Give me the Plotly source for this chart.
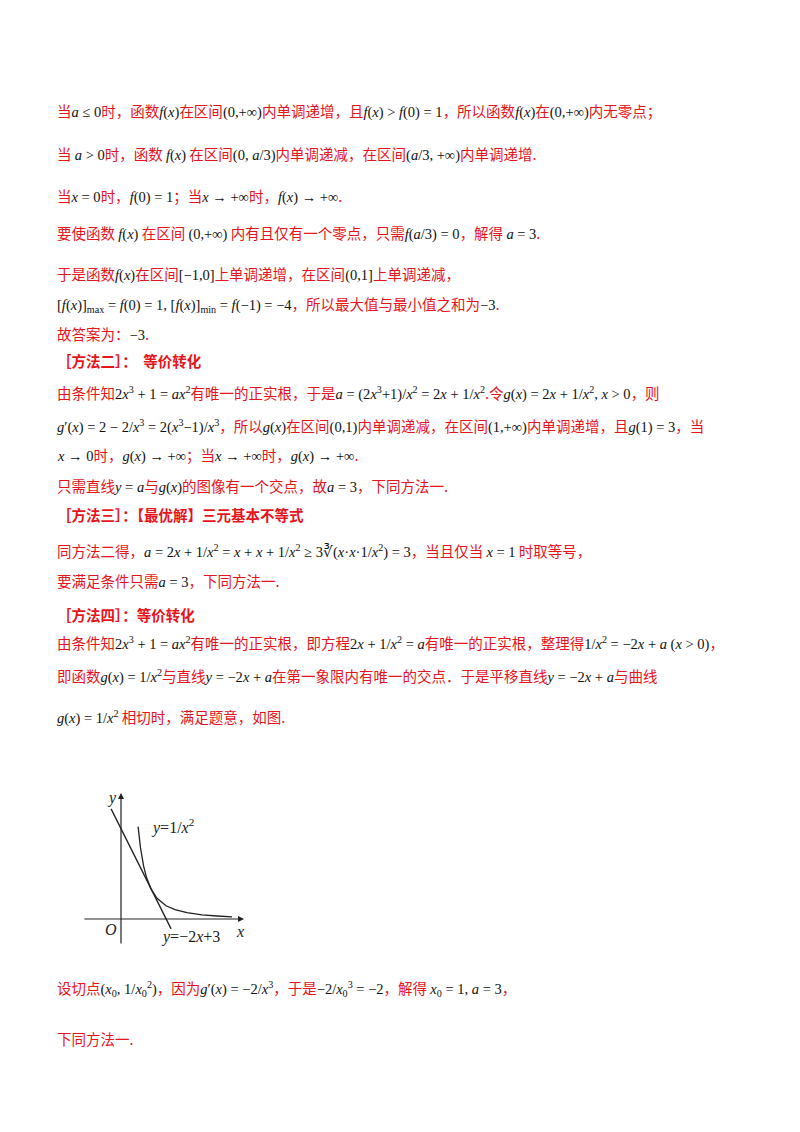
import plotly.graph_objects as go

RED = "#e8141c"
BLK = "#111111"

# diagram data
curve_x = [0.57, 0.65, 0.75, 0.85, 1.0, 1.2, 1.5, 1.8, 2.2, 2.7, 3.2, 3.7]
curve_y = [3.08, 2.37, 1.78, 1.38, 1.0, 0.69, 0.44, 0.31, 0.21, 0.14, 0.10, 0.07]
line_x = [-0.33, 1.67]
line_y = [3.67, -0.33]

def r(s): return f"<span style='color:{RED}'>{s}</span>"
def k(s): return f"<span style='color:{BLK};font-family:Liberation Serif'>{s}</span>"

text_y = [103, 145, 187, 225, 265, 296, 325, 352, 385, 418, 446, 477, 506, 542, 572, 606, 634, 667, 708, 980, 1030]
text_lines = [
    r("当")+k("<i>a</i> ≤ 0")+r("时，函数")+k("<i>f</i>(<i>x</i>)")+r("在区间")+k("(0,+∞)")+r("内单调递增，且")+k("<i>f</i>(<i>x</i>) > <i>f</i>(0) = 1")+r("，所以函数")+k("<i>f</i>(<i>x</i>)")+r("在")+k("(0,+∞)")+r("内无零点；"),
    r("当 ")+k("<i>a</i> > 0")+r("时，函数 ")+k("<i>f</i>(<i>x</i>)")+r(" 在区间")+k("(0, <i>a</i>/3)")+r("内单调递减，在区间")+k("(<i>a</i>/3, +∞)")+r("内单调递增."),
    r("当")+k("<i>x</i> = 0")+r("时，")+k("<i>f</i>(0) = 1")+r("；当")+k("<i>x</i> → +∞")+r("时，")+k("<i>f</i>(<i>x</i>) → +∞")+r("."),
    r("要使函数 ")+k("<i>f</i>(<i>x</i>)")+r(" 在区间 ")+k("(0,+∞)")+r(" 内有且仅有一个零点，只需")+k("<i>f</i>(<i>a</i>/3) = 0")+r("，解得 ")+k("<i>a</i> = 3")+r("."),
    r("于是函数")+k("<i>f</i>(<i>x</i>)")+r("在区间")+k("[−1,0]")+r("上单调递增，在区间")+k("(0,1]")+r("上单调递减，"),
    k("[<i>f</i>(<i>x</i>)]<sub>max</sub> = <i>f</i>(0) = 1, [<i>f</i>(<i>x</i>)]<sub>min</sub> = <i>f</i>(−1) = −4")+r("，所以最大值与最小值之和为")+k("−3")+r("."),
    r("故答案为：")+k("−3")+r("."),
    r("<b>［方法二］：  等价转化</b>"),
    r("由条件知")+k("2<i>x</i><sup>3</sup> + 1 = <i>ax</i><sup>2</sup>")+r("有唯一的正实根，于是")+k("<i>a</i> = (2<i>x</i><sup>3</sup>+1)/<i>x</i><sup>2</sup> = 2<i>x</i> + 1/<i>x</i><sup>2</sup>")+r(".令")+k("<i>g</i>(<i>x</i>) = 2<i>x</i> + 1/<i>x</i><sup>2</sup>, <i>x</i> > 0")+r("，则"),
    k("<i>g</i>′(<i>x</i>) = 2 − 2/<i>x</i><sup>3</sup> = 2(<i>x</i><sup>3</sup>−1)/<i>x</i><sup>3</sup>")+r("，所以")+k("<i>g</i>(<i>x</i>)")+r("在区间")+k("(0,1)")+r("内单调递减，在区间")+k("(1,+∞)")+r("内单调递增，且")+k("<i>g</i>(1) = 3")+r("，当"),
    k("<i>x</i> → 0")+r("时，")+k("<i>g</i>(<i>x</i>) → +∞")+r("；当")+k("<i>x</i> → +∞")+r("时，")+k("<i>g</i>(<i>x</i>) → +∞")+r("."),
    r("只需直线")+k("<i>y</i> = <i>a</i>")+r("与")+k("<i>g</i>(<i>x</i>)")+r("的图像有一个交点，故")+k("<i>a</i> = 3")+r("，下同方法一."),
    r("<b>［方法三］：【最优解】三元基本不等式</b>"),
    r("同方法二得，")+k("<i>a</i> = 2<i>x</i> + 1/<i>x</i><sup>2</sup> = <i>x</i> + <i>x</i> + 1/<i>x</i><sup>2</sup> ≥ 3∛(<i>x</i>·<i>x</i>·1/<i>x</i><sup>2</sup>) = 3")+r("，当且仅当 ")+k("<i>x</i> = 1")+r(" 时取等号，"),
    r("要满足条件只需")+k("<i>a</i> = 3")+r("，下同方法一."),
    r("<b>［方法四］：等价转化</b>"),
    r("由条件知")+k("2<i>x</i><sup>3</sup> + 1 = <i>ax</i><sup>2</sup>")+r("有唯一的正实根，即方程")+k("2<i>x</i> + 1/<i>x</i><sup>2</sup> = <i>a</i>")+r("有唯一的正实根，整理得")+k("1/<i>x</i><sup>2</sup> = −2<i>x</i> + <i>a</i> (<i>x</i> > 0)")+r("，"),
    r("即函数")+k("<i>g</i>(<i>x</i>) = 1/<i>x</i><sup>2</sup>")+r("与直线")+k("<i>y</i> = −2<i>x</i> + <i>a</i>")+r("在第一象限内有唯一的交点．于是平移直线")+k("<i>y</i> = −2<i>x</i> + <i>a</i>")+r("与曲线"),
    k("<i>g</i>(<i>x</i>) = 1/<i>x</i><sup>2</sup>")+r(" 相切时，满足题意，如图."),
    r("设切点")+k("(<i>x</i><sub>0</sub>, 1/<i>x</i><sub>0</sub><sup>2</sup>)")+r("，因为")+k("<i>g</i>′(<i>x</i>) = −2/<i>x</i><sup>3</sup>")+r("，于是")+k("−2/<i>x</i><sub>0</sub><sup>3</sup> = −2")+r("，解得 ")+k("<i>x</i><sub>0</sub> = 1, <i>a</i> = 3")+r("，"),
    r("下同方法一."),
]

fig = go.Figure()
fig.add_trace(go.Scatter(x=curve_x, y=curve_y, mode="lines", line=dict(color="#222", width=1.3),
                         xaxis="x2", yaxis="y2", showlegend=False, hoverinfo="skip"))
fig.add_trace(go.Scatter(x=line_x, y=line_y, mode="lines", line=dict(color="#222", width=1.3),
                         xaxis="x2", yaxis="y2", showlegend=False, hoverinfo="skip"))

W, H = 800, 1132
anns = []
for yy, t in zip(text_y, text_lines):
    anns.append(dict(x=47 / W, y=1 - yy / H, xref="paper", yref="paper", text=t, showarrow=False,
                     xanchor="left", yanchor="middle", align="left",
                     font=dict(family="Noto Sans CJK SC", size=14.5, color=RED)))

# diagram axes (x2/y2 coordinates)
ax = dict(xref="x2", yref="y2", axref="x2", ayref="y2", showarrow=True, arrowhead=2,
          arrowsize=1, arrowwidth=1.2, arrowcolor="#222", text="")
anns.append(dict(ax, x=4.1, y=0, ax=-1.27, ay=0))
anns.append(dict(ax, x=0, y=4.2, ax=0, ay=-0.87))
lab = dict(xref="x2", yref="y2", showarrow=False,
           font=dict(family="Liberation Serif", size=16, color="#222"))
anns.append(dict(lab, x=-0.3, y=4.05, text="<i>y</i>"))
anns.append(dict(lab, x=3.95, y=-0.4, text="<i>x</i>"))
anns.append(dict(lab, x=-0.35, y=-0.35, text="<i>O</i>"))
anns.append(dict(lab, x=2.3, y=-0.6, text="<i>y</i>=−2<i>x</i>+3"))
anns.append(dict(lab, x=1.7, y=3.1, text="<i>y</i>=1/<i>x</i><sup>2</sup>"))

fig.update_layout(
    width=W, height=H, margin=dict(l=0, r=0, t=0, b=0),
    paper_bgcolor="white", plot_bgcolor="rgba(0,0,0,0)",
    xaxis=dict(visible=False), yaxis=dict(visible=False),
    xaxis2=dict(domain=[75 / W, 240 / W], range=[-1.267, 4.233], visible=False, anchor="y2"),
    yaxis2=dict(domain=[1 - 942 / H, 1 - 777 / H], range=[-1.033, 4.467], visible=False, anchor="x2"),
    annotations=anns,
)
fig.write_html("out.html")
